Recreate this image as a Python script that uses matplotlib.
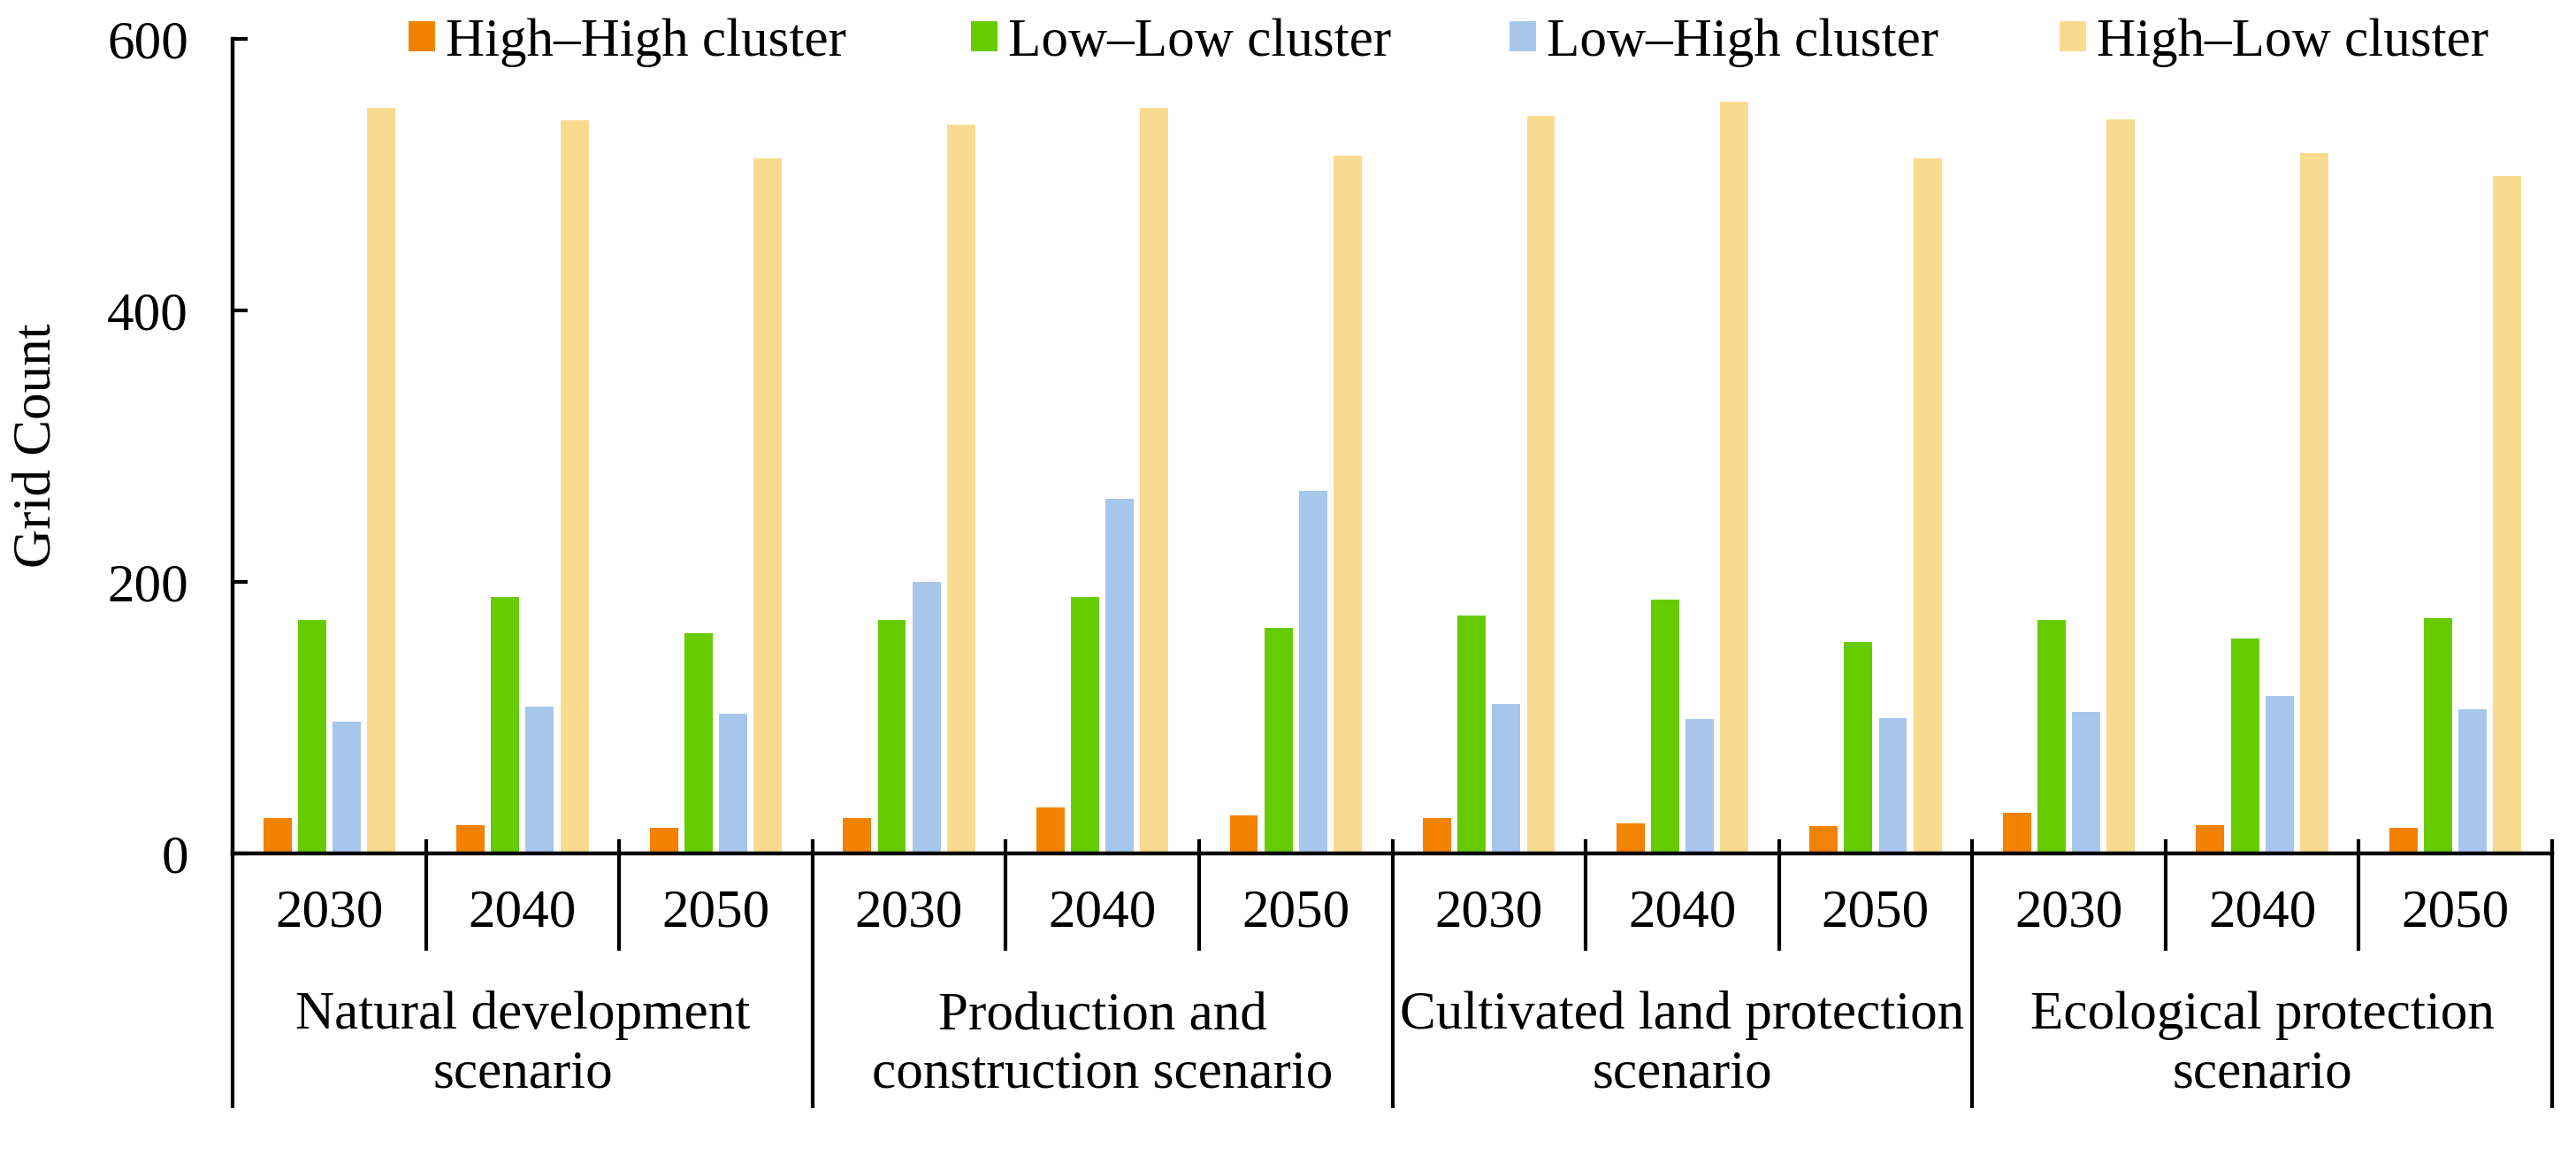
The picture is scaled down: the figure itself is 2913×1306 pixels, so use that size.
import numpy as np
import matplotlib
matplotlib.use("Agg")
import matplotlib.pyplot as plt
import matplotlib.patches as mpatches
import matplotlib.transforms as mtransforms
from matplotlib.lines import Line2D

# ---------------- data ----------------
scenarios = ["Natural development\nscenario",
             "Production and\nconstruction scenario",
             "Cultivated land protection\nscenario",
             "Ecological protection\nscenario"]
years = ["2030", "2040", "2050"]
series_names = ["High–High cluster", "Low–Low cluster",
                "Low–High cluster", "High–Low cluster"]
high_high = [26, 21, 19, 26, 34, 28, 26, 22, 20, 30, 21, 19]
low_low = [172, 189, 162, 172, 189, 166, 175, 187, 156, 172, 158, 173]
low_high = [97, 108, 103, 200, 261, 267, 110, 99, 100, 104, 116, 106]
high_low = [549, 540, 512, 537, 549, 514, 543, 554, 512, 541, 516, 499]
y_ticks = [0, 200, 400, 600]
y_label = "Grid Count"

colors = ["#F38200", "#66CC00", "#A6C6EC", "#F9DB90"]

plt.rcParams['font.family'] = ['Liberation Serif', 'DejaVu Serif']
FS = 44

W, H = 2913, 1306
fig = plt.figure(figsize=(W / 100, H / 100), dpi=100)
ax_left, ax_right, ax_top, ax_bot = 263, 2886, 44, 965
ax = fig.add_axes([ax_left / W, 1 - ax_bot / H, (ax_right - ax_left) / W, (ax_bot - ax_top) / H])

n_groups = len(scenarios) * len(years)
x = np.arange(n_groups)
step, width = 0.179, 0.146
series = [high_high, low_low, low_high, high_low]
handles = []
for k, (vals, c, name) in enumerate(zip(series, colors, series_names)):
    ax.bar(x + 0.5 + (k - 1.5) * step, vals, width=width, color=c, linewidth=0, label=name)
    handles.append(mpatches.Patch(facecolor=c, edgecolor='none', label=name))

ax.set_xlim(0, n_groups)
ax.set_ylim(0, 600)
for s in ['top', 'right']:
    ax.spines[s].set_visible(False)
for s in ['left', 'bottom']:
    ax.spines[s].set_linewidth(3.2)
    ax.spines[s].set_color('black')
ax.set_xticks([])
ax.set_yticks(y_ticks)
ax.set_yticklabels([str(v) for v in y_ticks])
ax.tick_params(axis='y', direction='in', length=12, width=3, pad=36, labelsize=FS, colors='black')

# category separators below axis
trans = mtransforms.blended_transform_factory(ax.transData, fig.transFigure)
def fy(px):
    return 1 - px / H
for i in range(n_groups + 1):
    top = ax_bot if i == 0 else ax_bot - 16
    bottom = 1253 if i % len(years) == 0 else 1075
    ax.add_line(Line2D([i, i], [fy(top), fy(bottom)], transform=trans, color='black',
                       lw=3, clip_on=False, solid_capstyle='butt'))

# year labels
for i in range(n_groups):
    ax.text(i + 0.5, fy(1047), years[i % len(years)], transform=trans,
            ha='center', va='baseline', fontsize=FS)

# scenario labels
baselines = [1163, 1229]
for j, sc in enumerate(scenarios):
    cx = j * len(years) + len(years) / 2
    for line, b in zip(sc.split("\n"), baselines):
        ax.text(cx, fy(b), line, transform=trans, ha='center', va='baseline', fontsize=FS)

# y label
fig.text(42 / W, fy(504), y_label, rotation=90, ha='center', va='center', fontsize=FS)

# legend entries
leg_x = [462, 1098, 1707, 2329]
for h, lx in zip(handles, leg_x):
    fig.legend(handles=[h], loc='center left', bbox_to_anchor=(lx / W, fy(48)),
               bbox_transform=fig.transFigure, frameon=False, fontsize=FS,
               handlelength=0.49, handleheight=0.48, handletextpad=0.2,
               borderpad=0, borderaxespad=0)

fig.savefig("out.png", dpi=100)
